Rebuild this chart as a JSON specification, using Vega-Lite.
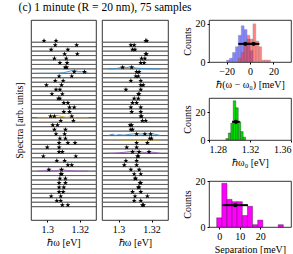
{
"$schema": "https://vega.github.io/schema/vega-lite/v6.json",
"padding": {"left": 13, "top": 1, "right": 2, "bottom": 2},
"title": {"text": "(c) 1 minute (R = 20 nm), 75 samples", "font": "Liberation Serif", "fontSize": 11.5, "fontWeight": "normal", "anchor": "start", "dx": 5, "offset": 5, "color": "black"},
"config": {
  "font": "Liberation Serif",
  "view": {"stroke": "black", "strokeWidth": 0.8},
  "axis": {"labelFont": "Liberation Serif", "titleFont": "Liberation Serif", "labelFontSize": 10, "titleFontSize": 10, "titleFontWeight": "normal", "labelColor": "black", "titleColor": "black", "domain": false, "grid": false, "ticks": true, "tickSize": 2, "tickColor": "black", "labelPadding": 2, "titlePadding": 3}
},
"datasets": {
  "pk": [
    {"p":1,"r":0,"e":1.2980},{"p":1,"r":0,"e":1.3054},
    {"p":1,"r":1,"e":1.3049},{"p":1,"r":1,"e":1.3181},
    {"p":1,"r":2,"e":1.3024},{"p":1,"r":2,"e":1.3127},
    {"p":1,"r":3,"e":1.3185},{"p":1,"r":3,"e":1.3107},
    {"p":1,"r":4,"e":1.3044},{"p":1,"r":4,"e":1.3117},
    {"p":1,"r":5,"e":1.3122},{"p":1,"r":5,"e":1.3078},
    {"p":1,"r":6,"e":1.3110},{"p":1,"r":6,"e":1.3120},
    {"p":1,"r":7,"e":1.3166},{"p":1,"r":7,"e":1.3229},
    {"p":1,"r":8,"e":1.3073},{"p":1,"r":8,"e":1.3151},
    {"p":1,"r":9,"e":1.3049},{"p":1,"r":9,"e":1.3098},
    {"p":1,"r":10,"e":1.2995},{"p":1,"r":10,"e":1.3088},
    {"p":1,"r":11,"e":1.3054},{"p":1,"r":11,"e":1.3078},
    {"p":1,"r":12,"e":1.3029},{"p":1,"r":12,"e":1.3093},
    {"p":1,"r":13,"e":1.3068},{"p":1,"r":13,"e":1.3078},
    {"p":1,"r":14,"e":1.3127},{"p":1,"r":14,"e":1.3102},
    {"p":1,"r":15,"e":1.3166},{"p":1,"r":15,"e":1.3137},
    {"p":1,"r":16,"e":1.3102},{"p":1,"r":16,"e":1.3137},
    {"p":1,"r":17,"e":1.3020},{"p":1,"r":17,"e":1.3044},{"p":1,"r":17,"e":1.3151},
    {"p":1,"r":18,"e":1.3083},{"p":1,"r":18,"e":1.3161},
    {"p":1,"r":19,"e":1.3034},{"p":1,"r":19,"e":1.3063},
    {"p":1,"r":20,"e":1.3044},{"p":1,"r":20,"e":1.3112},
    {"p":1,"r":21,"e":1.3054},{"p":1,"r":21,"e":1.3107},
    {"p":1,"r":22,"e":1.3078},{"p":1,"r":22,"e":1.3112},
    {"p":1,"r":23,"e":1.3073},{"p":1,"r":23,"e":1.3127},{"p":1,"r":23,"e":1.3171},
    {"p":1,"r":24,"e":1.3000},{"p":1,"r":24,"e":1.3073},
    {"p":1,"r":25,"e":1.3073},{"p":1,"r":25,"e":1.3093},
    {"p":1,"r":26,"e":1.2976},{"p":1,"r":26,"e":1.3176},
    {"p":1,"r":27,"e":1.3059},{"p":1,"r":27,"e":1.3107},
    {"p":1,"r":28,"e":1.3127},{"p":1,"r":28,"e":1.3151},
    {"p":1,"r":29,"e":1.3010},{"p":1,"r":29,"e":1.3088},
    {"p":1,"r":30,"e":1.3083},{"p":1,"r":30,"e":1.3090},
    {"p":1,"r":31,"e":1.3112},{"p":1,"r":31,"e":1.3078},
    {"p":1,"r":32,"e":1.3112},{"p":1,"r":32,"e":1.3073},
    {"p":1,"r":33,"e":1.3073},{"p":1,"r":33,"e":1.3102},
    {"p":1,"r":34,"e":1.3073},{"p":1,"r":34,"e":1.3098},
    {"p":1,"r":35,"e":1.3024},{"p":1,"r":35,"e":1.3083},
    {"p":1,"r":36,"e":1.3059},{"p":1,"r":36,"e":1.3083},
    {"p":1,"r":37,"e":1.3093},{"p":1,"r":37,"e":1.3127},
    {"p":2,"r":0,"e":1.3165},{"p":2,"r":0,"e":1.3172},
    {"p":2,"r":1,"e":1.3075},{"p":2,"r":1,"e":1.3095},
    {"p":2,"r":2,"e":1.3085},{"p":2,"r":2,"e":1.3100},
    {"p":2,"r":3,"e":1.3170},{"p":2,"r":3,"e":1.3165},
    {"p":2,"r":4,"e":1.3160},{"p":2,"r":4,"e":1.3140},
    {"p":2,"r":5,"e":1.3135},{"p":2,"r":5,"e":1.3155},
    {"p":2,"r":6,"e":1.3025},{"p":2,"r":6,"e":1.3080},
    {"p":2,"r":7,"e":1.3110},{"p":2,"r":7,"e":1.3125},
    {"p":2,"r":8,"e":1.3120},{"p":2,"r":8,"e":1.3105},
    {"p":2,"r":9,"e":1.3075},{"p":2,"r":9,"e":1.3135},
    {"p":2,"r":10,"e":1.3135},{"p":2,"r":10,"e":1.3150},
    {"p":2,"r":11,"e":1.3045},{"p":2,"r":11,"e":1.3135},
    {"p":2,"r":12,"e":1.3125},{"p":2,"r":12,"e":1.3120},
    {"p":2,"r":13,"e":1.3120},{"p":2,"r":13,"e":1.3095},
    {"p":2,"r":14,"e":1.3085},{"p":2,"r":14,"e":1.3110},
    {"p":2,"r":15,"e":1.3075},{"p":2,"r":15,"e":1.3135},
    {"p":2,"r":16,"e":1.3135},{"p":2,"r":16,"e":1.3080},
    {"p":2,"r":17,"e":1.3135},{"p":2,"r":17,"e":1.3140},
    {"p":2,"r":18,"e":1.3165},{"p":2,"r":18,"e":1.3145},
    {"p":2,"r":19,"e":1.3070},{"p":2,"r":19,"e":1.3080},
    {"p":2,"r":20,"e":1.3075},{"p":2,"r":20,"e":1.3085},
    {"p":2,"r":21,"e":1.3110},{"p":2,"r":21,"e":1.3160},{"p":2,"r":21,"e":1.3195},
    {"p":2,"r":22,"e":1.3200},{"p":2,"r":22,"e":1.3190},
    {"p":2,"r":23,"e":1.3110},{"p":2,"r":23,"e":1.3175},
    {"p":2,"r":24,"e":1.3050},{"p":2,"r":24,"e":1.3110},
    {"p":2,"r":25,"e":1.3085},{"p":2,"r":25,"e":1.3125},{"p":2,"r":25,"e":1.3185},
    {"p":2,"r":26,"e":1.3120},{"p":2,"r":26,"e":1.3115},
    {"p":2,"r":27,"e":1.3045},{"p":2,"r":27,"e":1.3110},
    {"p":2,"r":28,"e":1.3035},{"p":2,"r":28,"e":1.3110},
    {"p":2,"r":29,"e":1.3075},{"p":2,"r":29,"e":1.3125},
    {"p":2,"r":30,"e":1.3095},{"p":2,"r":30,"e":1.3135},
    {"p":2,"r":31,"e":1.3100},{"p":2,"r":31,"e":1.3105},
    {"p":2,"r":32,"e":1.3135},{"p":2,"r":32,"e":1.3130},
    {"p":2,"r":33,"e":1.3125},{"p":2,"r":33,"e":1.3120},
    {"p":2,"r":34,"e":1.3085},{"p":2,"r":34,"e":1.3135},
    {"p":2,"r":35,"e":1.3100},{"p":2,"r":35,"e":1.3175},
    {"p":2,"r":36,"e":1.3095},{"p":2,"r":36,"e":1.3135},
    {"p":2,"r":37,"e":1.3145},{"p":2,"r":37,"e":1.3152}
  ],
  "bm": [
    {"p":1,"id":"a","c":"blue","e":1.2937,"y":7},{"p":1,"id":"a","c":"blue","e":1.305,"y":7},{"p":1,"id":"a","c":"blue","e":1.310,"y":6.85},{"p":1,"id":"a","c":"blue","e":1.314,"y":6.5},{"p":1,"id":"a","c":"blue","e":1.3166,"y":6.3},{"p":1,"id":"a","c":"blue","e":1.319,"y":6.6},{"p":1,"id":"a","c":"blue","e":1.3229,"y":6.7},{"p":1,"id":"a","c":"blue","e":1.3254,"y":7},
    {"p":1,"id":"b","c":"orange","e":1.2937,"y":17},{"p":1,"id":"b","c":"orange","e":1.300,"y":17},{"p":1,"id":"b","c":"orange","e":1.303,"y":16.7},{"p":1,"id":"b","c":"orange","e":1.306,"y":16.5},{"p":1,"id":"b","c":"orange","e":1.309,"y":16.7},{"p":1,"id":"b","c":"orange","e":1.312,"y":16.9},{"p":1,"id":"b","c":"orange","e":1.3151,"y":16.8},{"p":1,"id":"b","c":"orange","e":1.318,"y":17},{"p":1,"id":"b","c":"orange","e":1.3254,"y":17},
    {"p":1,"id":"c","c":"purple","e":1.2937,"y":29},{"p":1,"id":"c","c":"purple","e":1.299,"y":28.9},{"p":1,"id":"c","c":"purple","e":1.301,"y":28.7},{"p":1,"id":"c","c":"purple","e":1.304,"y":28.95},{"p":1,"id":"c","c":"purple","e":1.307,"y":28.8},{"p":1,"id":"c","c":"purple","e":1.3088,"y":28.6},{"p":1,"id":"c","c":"purple","e":1.312,"y":28.9},{"p":1,"id":"c","c":"purple","e":1.3254,"y":29},
    {"p":2,"id":"d","c":"blue","e":1.2937,"y":6},{"p":2,"id":"d","c":"blue","e":1.299,"y":5.9},{"p":2,"id":"d","c":"blue","e":1.3025,"y":5.6},{"p":2,"id":"d","c":"blue","e":1.305,"y":5.7},{"p":2,"id":"d","c":"blue","e":1.308,"y":5.5},{"p":2,"id":"d","c":"blue","e":1.311,"y":5.85},{"p":2,"id":"d","c":"blue","e":1.3254,"y":6},
    {"p":2,"id":"e","c":"blue","e":1.2937,"y":21},{"p":2,"id":"e","c":"blue","e":1.297,"y":20.7},{"p":2,"id":"e","c":"blue","e":1.298,"y":21},{"p":2,"id":"e","c":"blue","e":1.300,"y":20.8},{"p":2,"id":"e","c":"blue","e":1.303,"y":20.9},{"p":2,"id":"e","c":"blue","e":1.307,"y":20.7},{"p":2,"id":"e","c":"blue","e":1.311,"y":20.6},{"p":2,"id":"e","c":"blue","e":1.316,"y":20.7},{"p":2,"id":"e","c":"blue","e":1.3195,"y":20.6},{"p":2,"id":"e","c":"blue","e":1.3254,"y":21},
    {"p":2,"id":"f","c":"purple","e":1.2937,"y":25},{"p":2,"id":"f","c":"purple","e":1.300,"y":24.9},{"p":2,"id":"f","c":"purple","e":1.305,"y":24.7},{"p":2,"id":"f","c":"purple","e":1.3085,"y":24.5},{"p":2,"id":"f","c":"purple","e":1.3125,"y":24.6},{"p":2,"id":"f","c":"purple","e":1.316,"y":24.8},{"p":2,"id":"f","c":"purple","e":1.3185,"y":24.7},{"p":2,"id":"f","c":"purple","e":1.3254,"y":25},
    {"p":2,"id":"g","c":"orange","e":1.2937,"y":22},{"p":2,"id":"g","c":"orange","e":1.298,"y":21.85},{"p":2,"id":"g","c":"orange","e":1.302,"y":22},{"p":2,"id":"g","c":"orange","e":1.3254,"y":22}
  ],
  "h1": [
    {"s":"b","b0":-20,"b1":-17.5,"n":1},{"s":"b","b0":-17.5,"b1":-15,"n":2},{"s":"b","b0":-15,"b1":-12.5,"n":5},
    {"s":"b","b0":-12.5,"b1":-10,"n":8},{"s":"b","b0":-10,"b1":-7.5,"n":14},{"s":"b","b0":-7.5,"b1":-5,"n":19},
    {"s":"b","b0":-5,"b1":-2.5,"n":17},{"s":"b","b0":-2.5,"b1":0,"n":12},{"s":"b","b0":0,"b1":2.5,"n":6},
    {"s":"r","b0":-10,"b1":-7.5,"n":2},{"s":"r","b0":-7.5,"b1":-5,"n":5},{"s":"r","b0":-5,"b1":-2.5,"n":10},
    {"s":"r","b0":-2.5,"b1":0,"n":14},{"s":"r","b0":0,"b1":2.5,"n":12},{"s":"r","b0":2.5,"b1":5,"n":20},
    {"s":"r","b0":5,"b1":7.5,"n":11},{"s":"r","b0":7.5,"b1":10,"n":8},{"s":"r","b0":10,"b1":12.5,"n":1},
    {"s":"r","b0":12.5,"b1":15,"n":1},{"s":"r","b0":15,"b1":17.5,"n":1}
  ],
  "e1": [{"lo":-10,"hi":2,"m":-4,"y":9.5},{"lo":-2,"hi":8,"m":3,"y":9.5}],
  "h2": [
    {"b0":1.2965,"b1":1.2989,"n":1},{"b0":1.2989,"b1":1.3013,"n":5},{"b0":1.3013,"b1":1.3037,"n":12},
    {"b0":1.3037,"b1":1.3061,"n":28},{"b0":1.3061,"b1":1.3085,"n":23},{"b0":1.3085,"b1":1.3109,"n":13},
    {"b0":1.3109,"b1":1.3133,"n":6},{"b0":1.3133,"b1":1.3157,"n":2}
  ],
  "e2": [{"lo":1.3025,"hi":1.3100,"m":1.3062,"y":13}],
  "h3": [
    {"b0":-1.25,"b1":1.25,"n":4},{"b0":1.25,"b1":3.75,"n":19},{"b0":3.75,"b1":6.25,"n":12},
    {"b0":6.25,"b1":8.75,"n":11},{"b0":8.75,"b1":11.25,"n":11},{"b0":11.25,"b1":13.75,"n":5},
    {"b0":13.75,"b1":16.25,"n":9},{"b0":16.25,"b1":18.75,"n":1},{"b0":18.75,"b1":21.25,"n":3},
    {"b0":28.75,"b1":31.25,"n":1}
  ],
  "e3": [{"lo":1.5,"hi":14,"m":7.8,"y":9.5}]
},
"spacing": 12,
"hconcat": [
  {
    "spacing": 4,
    "hconcat": [
      {
        "width": 65, "height": 200,
        "layer": [
          {"data": {"name": "pk"}, "transform": [{"filter": "datum.p == 1"}],
           "mark": {"type": "rule", "color": "#5a5a5a", "strokeWidth": 0.8},
           "encoding": {"y": {"field": "r", "type": "quantitative", "scale": {"domain": [-0.4, 37.4], "reverse": true}, "axis": {"title": "Spectra [arb. units]", "labels": false, "ticks": false, "titlePadding": 7}}}},
          {"data": {"name": "bm"}, "transform": [{"filter": "datum.p == 1"}],
           "mark": {"type": "line", "strokeWidth": 0.9, "interpolate": "monotone"},
           "encoding": {"x": {"field": "e", "type": "quantitative"}, "y": {"field": "y", "type": "quantitative"}, "detail": {"field": "id"},
             "color": {"field": "c", "type": "nominal", "scale": {"domain": ["blue", "orange", "purple"], "range": ["#3a8fc8", "#d9a420", "#9a5cb8"]}, "legend": null}}},
          {"data": {"name": "pk"}, "transform": [{"filter": "datum.p == 1"}],
           "mark": {"type": "point", "shape": "M0,-1L0.24,-0.32L0.95,-0.31L0.38,0.12L0.59,0.81L0,0.4L-0.59,0.81L-0.38,0.12L-0.95,-0.31L-0.24,-0.32Z", "filled": true, "color": "black", "size": 28, "opacity": 1, "yOffset": -1.5},
           "encoding": {
             "x": {"field": "e", "type": "quantitative", "scale": {"domain": [1.2937, 1.3254]}, "axis": {"values": [1.3, 1.32], "format": "~g", "title": "ℏω [eV]"}},
             "y": {"field": "r", "type": "quantitative"}}}
        ]
      },
      {
        "width": 66, "height": 200,
        "layer": [
          {"data": {"name": "pk"}, "transform": [{"filter": "datum.p == 2"}],
           "mark": {"type": "rule", "color": "#5a5a5a", "strokeWidth": 0.8},
           "encoding": {"y": {"field": "r", "type": "quantitative", "scale": {"domain": [-0.4, 37.4], "reverse": true}, "axis": null}}},
          {"data": {"name": "bm"}, "transform": [{"filter": "datum.p == 2"}],
           "mark": {"type": "line", "strokeWidth": 0.9, "interpolate": "monotone"},
           "encoding": {"x": {"field": "e", "type": "quantitative"}, "y": {"field": "y", "type": "quantitative"}, "detail": {"field": "id"},
             "color": {"field": "c", "type": "nominal", "scale": {"domain": ["blue", "orange", "purple"], "range": ["#3a8fc8", "#d9a420", "#9a5cb8"]}, "legend": null}}},
          {"data": {"name": "pk"}, "transform": [{"filter": "datum.p == 2"}],
           "mark": {"type": "point", "shape": "M0,-1L0.24,-0.32L0.95,-0.31L0.38,0.12L0.59,0.81L0,0.4L-0.59,0.81L-0.38,0.12L-0.95,-0.31L-0.24,-0.32Z", "filled": true, "color": "black", "size": 28, "opacity": 1, "yOffset": -1.5},
           "encoding": {
             "x": {"field": "e", "type": "quantitative", "scale": {"domain": [1.2937, 1.3254]}, "axis": {"values": [1.3, 1.32], "format": "~g", "title": "ℏω [eV]"}},
             "y": {"field": "r", "type": "quantitative"}}}
        ]
      }
    ]
  },
  {
    "spacing": 7,
    "vconcat": [
      {
        "width": 82, "height": 42,
        "layer": [
          {"data": {"name": "h1"}, "transform": [{"filter": "datum.s == 'b'"}],
           "mark": {"type": "bar", "color": "#3c3cff", "opacity": 0.62, "stroke": "#444", "strokeWidth": 0.3},
           "encoding": {
             "x": {"field": "b0", "type": "quantitative", "scale": {"domain": [-35, 35]}, "axis": {"values": [-20, 0, 20], "title": "ℏ(ω − ω₀) [meV]"}},
             "x2": {"field": "b1"},
             "y": {"field": "n", "type": "quantitative", "stack": null, "scale": {"domain": [0, 22]}, "axis": {"values": [0, 10, 20], "title": "Counts"}},
             "y2": {"datum": 0}}},
          {"data": {"name": "h1"}, "transform": [{"filter": "datum.s == 'r'"}],
           "mark": {"type": "bar", "color": "#ff3c3c", "opacity": 0.62, "stroke": "#444", "strokeWidth": 0.3},
           "encoding": {
             "x": {"field": "b0", "type": "quantitative"},
             "x2": {"field": "b1"},
             "y": {"field": "n", "type": "quantitative", "stack": null},
             "y2": {"datum": 0}}},
          {"data": {"name": "e1"},
           "mark": {"type": "rule", "color": "black", "strokeWidth": 2},
           "encoding": {"x": {"field": "lo", "type": "quantitative"}, "x2": {"field": "hi"}, "y": {"field": "y", "type": "quantitative"}}},
          {"data": {"name": "e1"},
           "mark": {"type": "point", "filled": true, "color": "black", "size": 18, "opacity": 1},
           "encoding": {"x": {"field": "m", "type": "quantitative"}, "y": {"field": "y", "type": "quantitative"}}},
          {"mark": {"type": "text", "text": "(i)", "align": "left", "baseline": "top", "fontSize": 10, "font": "Liberation Serif"},
           "encoding": {"x": {"datum": -34}, "y": {"datum": 21.5}}}
        ]
      },
      {
        "width": 82, "height": 42,
        "layer": [
          {"data": {"name": "h2"},
           "mark": {"type": "bar", "color": "#00e000", "stroke": "#222", "strokeWidth": 0.4, "opacity": 1},
           "encoding": {
             "x": {"field": "b0", "type": "quantitative", "scale": {"domain": [1.28, 1.36]}, "axis": {"values": [1.28, 1.32, 1.36], "format": "~g", "title": "ℏω₀ [eV]"}},
             "x2": {"field": "b1"},
             "y": {"field": "n", "type": "quantitative", "scale": {"domain": [0, 30]}, "axis": {"values": [0, 20], "title": "Counts"}},
             "y2": {"datum": 0}}},
          {"data": {"name": "e2"},
           "mark": {"type": "rule", "color": "black", "strokeWidth": 2},
           "encoding": {"x": {"field": "lo", "type": "quantitative"}, "x2": {"field": "hi"}, "y": {"field": "y", "type": "quantitative"}}},
          {"data": {"name": "e2"},
           "mark": {"type": "point", "filled": true, "color": "black", "size": 18, "opacity": 1},
           "encoding": {"x": {"field": "m", "type": "quantitative"}, "y": {"field": "y", "type": "quantitative"}}},
          {"mark": {"type": "text", "text": "(ii)", "align": "left", "baseline": "top", "fontSize": 10, "font": "Liberation Serif"},
           "encoding": {"x": {"datum": 1.2815}, "y": {"datum": 29.5}}}
        ]
      },
      {
        "width": 82, "height": 46,
        "layer": [
          {"data": {"name": "h3"},
           "mark": {"type": "bar", "color": "#ff00ff", "stroke": "#222", "strokeWidth": 0.4, "opacity": 1},
           "encoding": {
             "x": {"field": "b0", "type": "quantitative", "scale": {"domain": [-1.5, 35]}, "axis": {"values": [0, 10, 20], "title": "Separation [meV]"}},
             "x2": {"field": "b1"},
             "y": {"field": "n", "type": "quantitative", "scale": {"domain": [0, 20]}, "axis": {"values": [0, 10, 20], "title": "Counts"}},
             "y2": {"datum": 0}}},
          {"data": {"name": "e3"},
           "mark": {"type": "rule", "color": "black", "strokeWidth": 2},
           "encoding": {"x": {"field": "lo", "type": "quantitative"}, "x2": {"field": "hi"}, "y": {"field": "y", "type": "quantitative"}}},
          {"data": {"name": "e3"},
           "mark": {"type": "point", "filled": true, "color": "black", "size": 18, "opacity": 1},
           "encoding": {"x": {"field": "m", "type": "quantitative"}, "y": {"field": "y", "type": "quantitative"}}},
          {"mark": {"type": "text", "text": "(iii)", "align": "right", "baseline": "top", "fontSize": 10, "font": "Liberation Serif"},
           "encoding": {"x": {"datum": 34}, "y": {"datum": 19.3}}}
        ]
      }
    ]
  }
]
}
